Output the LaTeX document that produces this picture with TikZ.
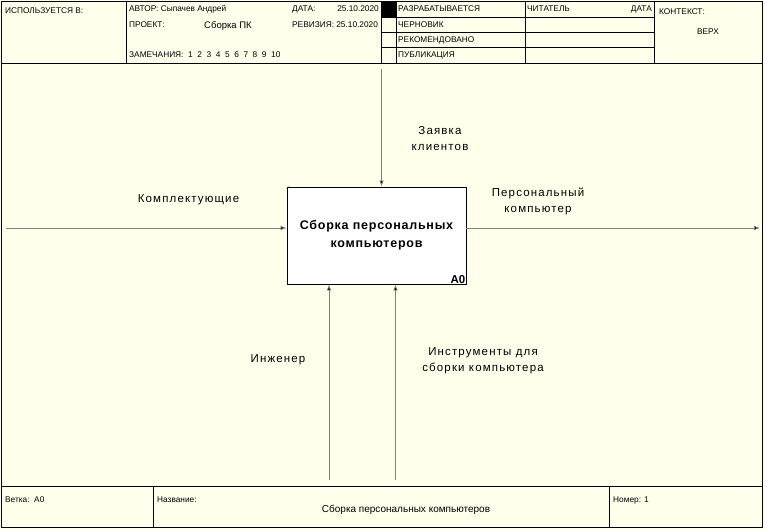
\documentclass[tikz,border=0pt]{standalone}
\usepackage{fontspec}
\setmainfont{Liberation Sans}
\usetikzlibrary{arrows.meta}
\definecolor{bgy}{RGB}{255,255,236}
\definecolor{arrg}{RGB}{128,128,128}
\tikzset{
  frame/.style={draw=black, line width=0.9pt},
  hdr/.style={font=\fontsize{8.3}{9}\selectfont, inner sep=0pt, anchor=west},
  lbl/.style={font=\fontsize{11.5}{16}\selectfont\addfontfeature{LetterSpace=10}, align=center, inner sep=0pt},
  flow/.style={draw=arrg, line width=0.7pt, -{Latex[length=6pt,width=4.5pt,fill=black]}},
}
\begin{document}
\begin{tikzpicture}[x=1pt,y=-1pt]
\useasboundingbox (0,0) rectangle (765,530);
\fill[bgy] (0,0) rectangle (765,530);
% outer frame
\draw[frame] (1,1) rectangle (762,527);
% header
\draw[frame] (1,63) -- (762,63);
\draw[frame] (126,1) -- (126,63);
\draw[frame] (381,1) -- (381,63);
\draw[frame] (396,1) -- (396,63);
\draw[frame] (525,1) -- (525,63);
\draw[frame] (654,1) -- (654,63);
\draw[frame] (381,17) -- (654,17);
\draw[frame] (381,32) -- (654,32);
\draw[frame] (381,47) -- (654,47);
\fill[black] (381,1) rectangle (396,17);
% footer
\draw[frame] (1,486) -- (762,486);
\draw[frame] (153,486) -- (153,527);
\draw[frame] (609,486) -- (609,527);

% header texts
\node[hdr] (used) at (5,11) {ИСПОЛЬЗУЕТСЯ В:};
\node[hdr] (author) at (129,9) {АВТОР: Сыпачев Андрей};
\node[hdr] (proj) at (129,25) {ПРОЕКТ:};
\node[hdr, anchor=center, font=\fontsize{9.5}{10}\selectfont] (projn) at (228,26) {Сборка ПК};
\node[hdr] (notes) at (129,55) {ЗАМЕЧАНИЯ:\ \ 1\ \ 2\ \ 3\ \ 4\ \ 5\ \ 6\ \ 7\ \ 8\ \ 9\ \ 10};
\node[hdr] (date) at (292,9) {ДАТА:};
\node[hdr, anchor=east] (dateval) at (379,9) {25.10.2020};
\node[hdr] (rev) at (292,25) {РЕВИЗИЯ: 25.10.2020};
\node[hdr] (s1) at (398,9) {РАЗРАБАТЫВАЕТСЯ};
\node[hdr] (s2) at (398,24.5) {ЧЕРНОВИК};
\node[hdr] (s3) at (398,40) {РЕКОМЕНДОВАНО};
\node[hdr] (s4) at (398,55) {ПУБЛИКАЦИЯ};
\node[hdr] (reader) at (527,9) {ЧИТАТЕЛЬ};
\node[hdr, anchor=east] (rdate) at (652,9) {ДАТА};
\node[hdr] (ctx) at (659,12) {КОНТЕКСТ:};
\node[hdr, anchor=center] (top) at (708,32) {ВЕРХ};

% footer texts
\node[hdr] (branch) at (5,500) {Ветка:\ \ A0};
\node[hdr] (name) at (157,500) {Название:};
\node[hdr, anchor=center, font=\fontsize{10}{11}\selectfont] (nameval) at (406,510) {Сборка персональных компьютеров};
\node[hdr] (num) at (613,500) {Номер: 1};

% main box
\node[draw=black, line width=0.9pt, fill=white, minimum width=179pt, minimum height=97pt, inner sep=0pt,
      font=\bfseries\fontsize{12.5}{18}\selectfont\addfontfeature{LetterSpace=6}, align=center] (box) at (376.5,235.5)
      {Сборка персональных\\компьютеров};
\draw[line width=0.5pt] ([xshift=2.5pt]box.north west) -- ([yshift=-2.5pt]box.north west);
\node[anchor=south east, inner sep=1pt, font=\bfseries\fontsize{11.5}{12}\selectfont] (a0) at (box.south east) {A0};

% free ends
\coordinate (inS) at (6,228);
\coordinate (outE) at (760,228);
\coordinate (ctlS) at (381.5,69);
\coordinate (m1S) at (329,480);
\coordinate (m2S) at (395.5,480);

\draw[flow] (inS) -- (inS -| box.west);
\draw[flow] (outE -| box.east) -- (outE);
\draw[flow] (ctlS) -- (ctlS |- box.north);
\draw[flow] (m1S) -- (m1S |- box.south);
\draw[flow] (m2S) -- (m2S |- box.south);

% labels
\node[lbl] (lin) at (188.5,199.5) {Комплектующие};
\node[lbl] (lout) at (538,201) {Персональный\\компьютер};
\node[lbl] (lctl) at (440,139) {Заявка\\клиентов};
\node[lbl] (lm1) at (278,360) {Инженер};
\node[lbl] (lm2) at (483,360.5) {Инструменты для\\сборки компьютера};
\end{tikzpicture}
\end{document}
